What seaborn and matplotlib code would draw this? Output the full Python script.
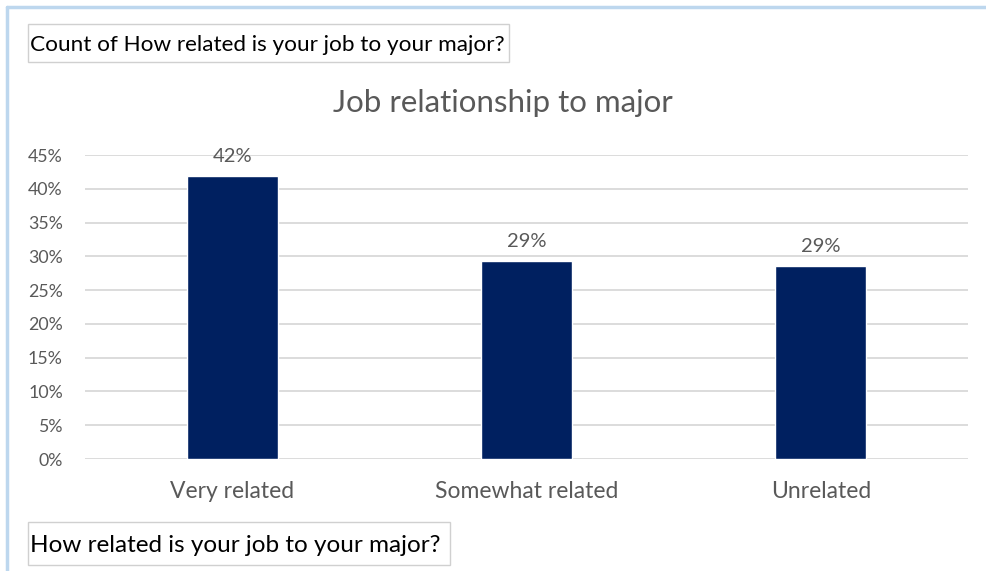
import matplotlib
matplotlib.use("Agg")
import matplotlib.pyplot as plt
from matplotlib.patches import Rectangle
from matplotlib.lines import Line2D
import seaborn as sns
import pandas as pd

categories = ["Very related", "Somewhat related", "Unrelated"]
values = [41.9, 29.3, 28.5]
labels = ["42%", "29%", "29%"]
yticks = [0, 5, 10, 15, 20, 25, 30, 35, 40, 45]

sns.set_style("white")
plt.rcParams['font.family'] = ['Lato', 'DejaVu Sans']

W, H = 987, 571
fig = plt.figure(figsize=(W / 100, H / 100), dpi=100)

def fx(px):
    return px / W

def fy(py):
    return 1 - py / H

ax = fig.add_axes([fx(85), fy(459), fx(968) - fx(85), fy(155) - fy(459)])
df = pd.DataFrame({"cat": categories, "val": values})
sns.barplot(data=df, x="cat", y="val", color="#002060", width=0.31,
            saturation=1, ax=ax, zorder=3)
ax.set_xlim(-0.5, 2.5)
ax.set_ylim(0, 45)
ax.set_yticks(yticks)
ax.set_yticklabels([f"{t}%" for t in yticks])
ax.set_xlabel("")
ax.set_ylabel("")
for s in ax.spines.values():
    s.set_visible(False)
ax.grid(axis="y", color="#d9d9d9", linewidth=1.3, zorder=0)
ax.grid(axis="x", visible=False)
ax.tick_params(axis="y", length=0, pad=16, labelsize=12.8, labelcolor="#595959")
ax.tick_params(axis="x", length=0, pad=16, labelsize=16.5, labelcolor="#595959")
for lab in ax.get_yticklabels():
    lab.set_horizontalalignment("right")

for i, (v, lab) in enumerate(zip(values, labels)):
    ax.annotate(lab, (i, v), xytext=(0, 8), textcoords="offset points",
                ha="center", va="bottom", fontsize=14.5, color="#595959",
                clip_on=False)

fig.text(fx(503), fy(103), "Job relationship to major", ha="center", va="center",
         fontsize=22.5, color="#595959")

# outer frame lines
fig.add_artist(Line2D([fx(7), 1], [fy(7), fy(7)], color="#bdd7ee", linewidth=2.5))
fig.add_artist(Line2D([fx(7), fx(7)], [fy(7), 0], color="#bdd7ee", linewidth=2.5))

# field buttons
fig.add_artist(Rectangle((fx(28), fy(62)), fx(509) - fx(28), fy(24) - fy(62),
                         facecolor="white", edgecolor="#d0d0d0", linewidth=1))
fig.text(fx(30), fy(45), "Count of How related is your job to your major?",
         ha="left", va="center", fontsize=16.2, color="black")
fig.add_artist(Rectangle((fx(28), fy(565)), fx(450) - fx(28), fy(522) - fy(565),
                         facecolor="white", edgecolor="#d0d0d0", linewidth=1))
fig.text(fx(30), fy(545), "How related is your job to your major?",
         ha="left", va="center", fontsize=17.5, color="black")

fig.savefig("out.png", dpi=100)
